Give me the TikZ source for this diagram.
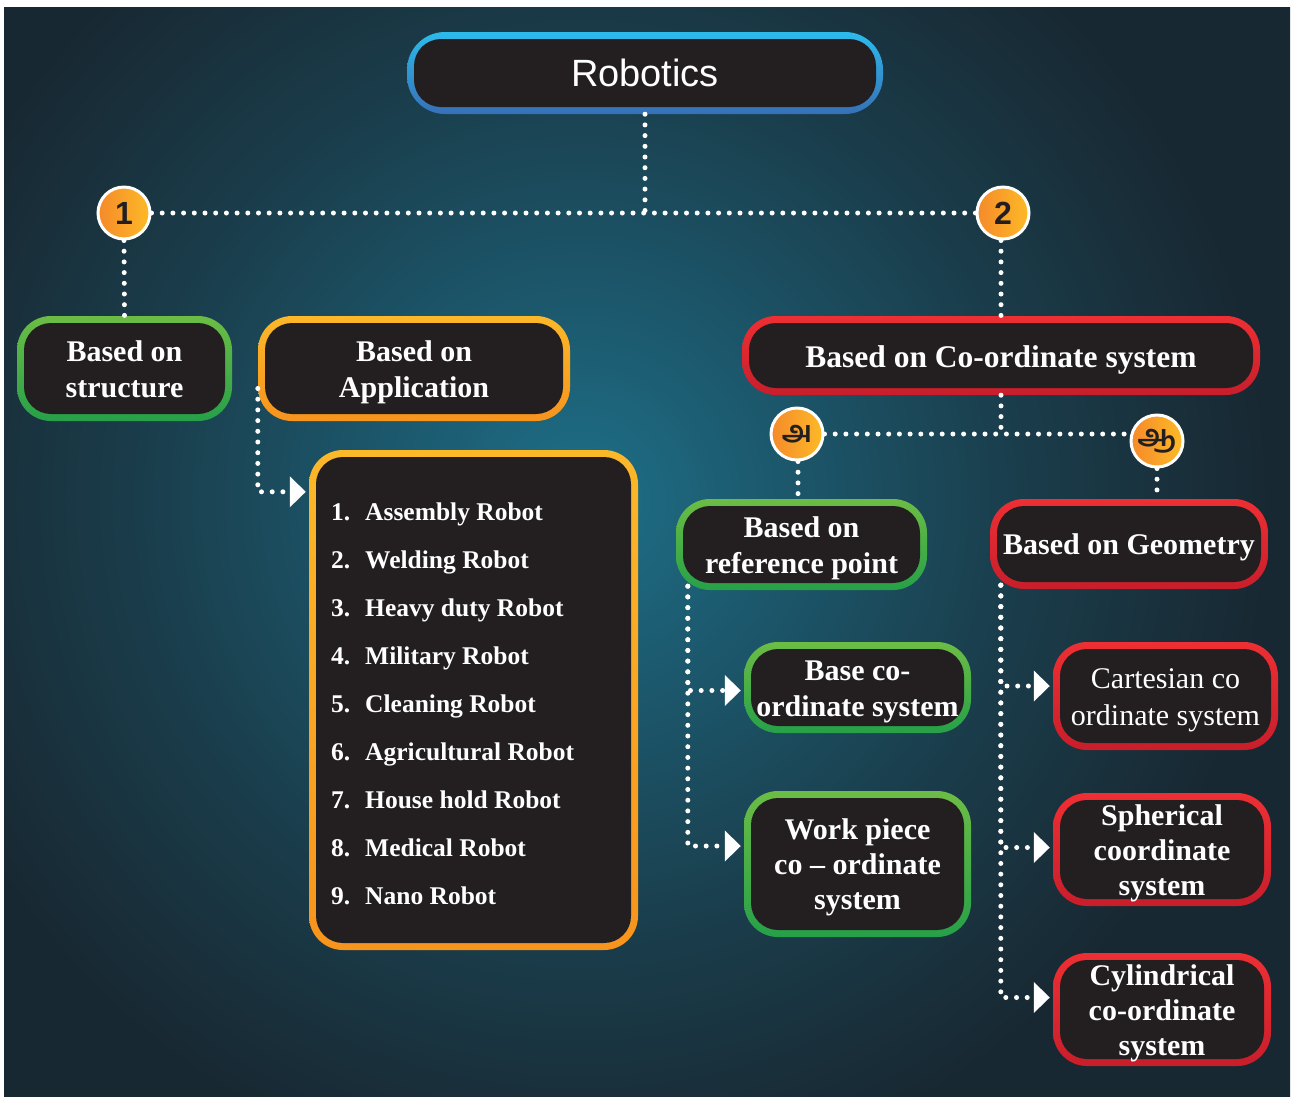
\documentclass[tikz,border=0pt]{standalone}
\usepackage{fontspec}
\setmainfont{Liberation Serif}
\newfontfamily\robofont{Liberation Sans}
\newfontfamily\tamilfont[Script=Tamil]{Hind Madurai}
\usetikzlibrary{arrows.meta,shadings}
\definecolor{bgc}{HTML}{182832}
\definecolor{glowA}{HTML}{1E7088}
\definecolor{glowB}{HTML}{1C5A6F}
\definecolor{glowC}{HTML}{1A3C4A}
\definecolor{boxfill}{HTML}{231F20}
\definecolor{grnT}{HTML}{6CBD45}
\definecolor{grnB}{HTML}{26A048}
\definecolor{redT}{HTML}{EE2F33}
\definecolor{redB}{HTML}{C81E2B}
\definecolor{orgT}{HTML}{FBB829}
\definecolor{orgB}{HTML}{F7941D}
\definecolor{bluT}{HTML}{2DBBEC}
\definecolor{bluB}{HTML}{3670B8}
\definecolor{cirL}{HTML}{F58A2A}
\definecolor{cirR}{HTML}{FDBA27}
\pgfdeclareradialshading{glow}{\pgfpoint{0bp}{0bp}}{color(0bp)=(glowA); color(6bp)=(glowB); color(15bp)=(glowC); color(23bp)=(bgc); color(50bp)=(bgc)}
\newcommand\bxfont{\fontsize{30}{35}\selectfont\bfseries}
\newcommand\fs{\rule[-0.22em]{0pt}{1.17em}}
\tikzset{
  boxbase/.style={rounded corners=34pt, inner sep=0pt, text=white, align=center, font=\bxfont,
    path picture={\fill[boxfill, rounded corners=27pt]
      ([shift={(7pt,-7pt)}]path picture bounding box.north west) rectangle
      ([shift={(-7pt,7pt)}]path picture bounding box.south east);}},
  greenbox/.style={boxbase, top color=grnT, bottom color=grnB},
  redbox/.style={boxbase, top color=redT, bottom color=redB},
  orangebox/.style={boxbase, top color=orgT, bottom color=orgB},
  bluebox/.style={boxbase, rounded corners=38pt, top color=bluT, bottom color=bluB},
  circ/.style={circle, minimum size=52pt, inner sep=0pt, left color=cirL, right color=cirR,
    draw=white, line width=3pt, text=boxfill},
  dotline/.style={white, line width=5pt, line cap=round, dash pattern=on 0pt off 10.7pt},
  arrowline/.style={dotline, -{Triangle[length=16pt,width=30pt]}, shorten >=3pt},
  item/.style={anchor=base west, text=white, inner sep=0pt, font=\fontsize{25.5}{30}\selectfont\bfseries}
}
\begin{document}
\begin{tikzpicture}[x=1pt,y=-1pt]
\useasboundingbox (0,0) rectangle (1292,1096);
\fill[bgc] (4,7) rectangle (1290,1096);
\begin{scope}
  \clip (4,7) rectangle (1290,1096);
  \shade[shading=glow] (-170,-250) rectangle (1330,1250);
\end{scope}

% nodes
\node[bluebox, minimum width=476pt, minimum height=82pt, font=\robofont\fontsize{38}{40}\selectfont] (rob) at (645,73) {Robotics};
\node[circ, font=\robofont\bfseries\fontsize{32}{32}\selectfont] (c1) at (124,213) {1};
\node[circ, font=\robofont\bfseries\fontsize{32}{32}\selectfont] (c2) at (1003,213) {2};
\coordinate (j0) at (645,214);

\node[greenbox, minimum width=215pt, minimum height=105pt] (struct) at (124.5,368.5) {\fs Based on\\structure\fs};
\node[orangebox, minimum width=312pt, minimum height=105pt] (app) at (414,368.5) {\fs Based on\\Application\fs};
\node[redbox, minimum width=518pt, minimum height=79pt, font=\fontsize{31.5}{35}\selectfont\bfseries] (coord) at (1001,355.5) {\fs Based on Co-ordinate system};

\node[circ, font=\tamilfont\bfseries\fontsize{30}{30}\selectfont] (ca) at (797,434) {அ};
\node[circ, font=\tamilfont\bfseries\fontsize{30}{30}\selectfont] (cb) at (1157,441) {ஆ};

\node[orangebox, minimum width=329pt, minimum height=500pt] (list) at (473.5,700) {};
\foreach \t [count=\k] in {Assembly Robot, Welding Robot, Heavy duty Robot, Military Robot,
  Cleaning Robot, Agricultural Robot, House hold Robot, Medical Robot, Nano Robot}
  \node[item] (i\k) at (331,{520+48*(\k-1)}) {\makebox[34pt][l]{\k.}\t};

\node[greenbox, minimum width=251pt, minimum height=91pt] (ref) at (801.5,544.5) {\fs Based on\\reference point\fs};
\node[redbox, minimum width=278pt, minimum height=90pt] (geo) at (1129,544) {\fs Based on Geometry};
\node[greenbox, minimum width=227pt, minimum height=91pt] (base) at (857.5,687.5) {\fs Base co-\\ordinate system\fs};
\node[greenbox, minimum width=227pt, minimum height=146pt] (work) at (857.5,864) {\fs Work piece\\co -- ordinate\\system\fs};
\node[redbox, minimum width=225pt, minimum height=108pt, font=\fontsize{30}{35}\selectfont] (cart) at (1165.5,696) {\fs Cartesian co\\ordinate system\fs};
\node[redbox, minimum width=218pt, minimum height=113pt] (sph) at (1162,849.5) {\fs Spherical\\coordinate\\system\fs};
\node[redbox, minimum width=218pt, minimum height=113pt] (cyl) at (1162,1009.5) {\fs Cylindrical\\co-ordinate\\system\fs};

% connectors
\draw[dotline] (rob.south) -- (j0);
\draw[dotline] (c1.east) -- (c2.west);
\draw[dotline] (c1.south) -- (struct.north);
\draw[dotline] ([xshift=-2pt]c2.south) -- ([xshift=-2pt]c2.south |- coord.north);
\coordinate (j1) at (coord.south |- ca);
\draw[dotline] (coord.south) -- (j1);
\draw[dotline] (ca.east) -- (cb.west |- ca.east);
\draw[dotline] ([xshift=1pt]ca.south) -- ([xshift=1pt]ca.south |- ref.north);
\draw[dotline] (cb.south) -- (cb.south |- geo.north);

\coordinate (a0) at ([yshift=-20pt]app.west);
\draw[arrowline] (a0) |- ([yshift=-42pt]list.north west);

\coordinate (r0) at ([xshift=12pt,yshift=4pt]ref.south west);
\draw[arrowline] (r0) |- ([yshift=-3pt]base.west);
\draw[arrowline] (r0) |- ([yshift=18pt]work.west);

\coordinate (g0) at ([xshift=11pt,yshift=4pt]geo.south west);
\draw[arrowline] (g0) |- ([yshift=10pt]cart.west);
\draw[arrowline] (g0) |- ([yshift=2pt]sph.west);
\draw[arrowline] (g0) |- ([yshift=12pt]cyl.west);
\end{tikzpicture}
\end{document}
